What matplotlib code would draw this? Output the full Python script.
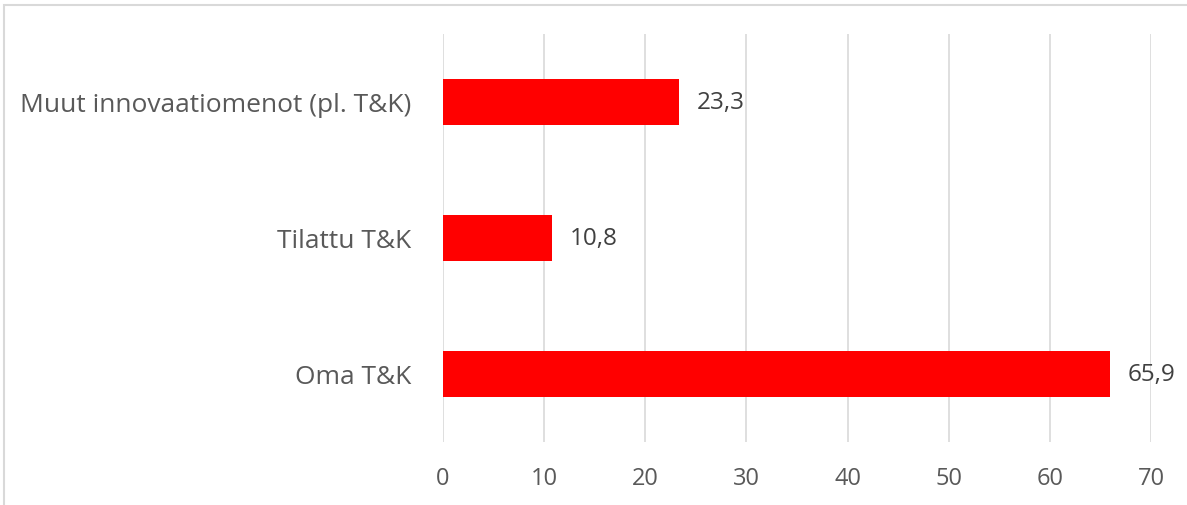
import matplotlib.pyplot as plt
from matplotlib.patches import Rectangle

plt.rcParams['font.family'] = ['Open Sans', 'DejaVu Sans']

# Data
categories = ['Oma T&K', 'Tilattu T&K', 'Muut innovaatiomenot (pl. T&K)']
values = [65.9, 10.8, 23.3]
xticks = [0, 10, 20, 30, 40, 50, 60, 70]

W, H = 1187, 506
fig = plt.figure(figsize=(W / 100, H / 100), dpi=100)
ax = fig.add_axes([443 / W, 1 - 443 / H, (1151 - 443) / W, (443 - 35) / H])

ypos = list(range(len(categories)))
ax.barh(ypos, values, height=0.345, color='#ff0000', zorder=3)

for y, v in zip(ypos, values):
    ax.annotate(f'{v:.1f}'.replace('.', ','), xy=(v, y), xytext=(13, 0),
                textcoords='offset points', va='center', ha='left',
                fontsize=17.5, color='#404040')

ax.set_xlim(0, 70)
ax.set_ylim(-0.5, 2.5)
ax.set_xticks(xticks)
ax.set_xticklabels([str(t) for t in xticks])
ax.set_yticks(ypos)
ax.set_yticklabels(categories)
ax.tick_params(axis='x', length=0, pad=17, labelsize=17, labelcolor='#595959')
ax.tick_params(axis='y', length=0, pad=23, labelsize=19, labelcolor='#595959')
ax.grid(axis='x', color='#d9d9d9', linewidth=1.2, zorder=0)
for s in ax.spines.values():
    s.set_visible(False)

# outer chart border (partly cropped)
fig.patches.append(Rectangle((4 / W, -0.1), 2.0, 1.1 - 6 / H, transform=fig.transFigure,
                             fill=False, edgecolor='#d9d9d9', linewidth=1.5))

fig.savefig('out.png', dpi=100)
